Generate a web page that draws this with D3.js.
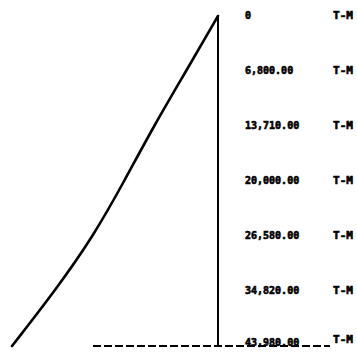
<!DOCTYPE html>
<html><head><meta charset="utf-8">
<script src="https://cdn.jsdelivr.net/npm/d3@7"></script>
<style>body{margin:0;background:#fff}svg{display:block}</style>
</head><body>
<svg id="c" width="357" height="352"></svg>
<script>
const stations = [0, 1, 2, 3, 4, 5, 6];
const moments = [0, 6800, 13710, 20000, 26580, 34820, 43980];
const momentLabels = ["0", "6,800.00", "13,710.00", "20,000.00", "26,580.00", "34,820.00", "43,980.00"];
const unitLabel = "T-M";

const svg = d3.select("#c");
const y = d3.scaleLinear().domain([0, 6]).range([16, 346]);
const x = d3.scaleLinear().domain([0, 43980]).range([218, 12]);

const pts = stations.map((s, i) => [x(moments[i]), y(s)]);
svg.append("path")
  .attr("d", d3.line().curve(d3.curveBasis)(pts))
  .attr("fill", "none").attr("stroke", "#000").attr("stroke-width", 2.6)
  .attr("stroke-linecap", "round");

svg.append("line")
  .attr("x1", x(0)).attr("x2", x(0)).attr("y1", y(0)).attr("y2", y(6))
  .attr("stroke", "#000").attr("stroke-width", 2);

svg.append("line")
  .attr("x1", 93).attr("x2", 330).attr("y1", y(6)).attr("y2", y(6))
  .attr("stroke", "#000").attr("stroke-width", 2).attr("stroke-dasharray", "8,3");

const g = svg.append("g").attr("font-family", "'DejaVu Sans Mono', monospace")
  .attr("font-weight", "bold").attr("font-size", 10).attr("fill", "#000")
  .attr("stroke", "#000").attr("stroke-width", 0.6);
g.selectAll("text.v").data(stations).join("text").attr("class", "v")
  .attr("x", 245).attr("y", d => y(d) + (d === 6 ? 0 : 3))
  .text((d, i) => momentLabels[i]);
g.selectAll("text.u").data(stations).join("text").attr("class", "u")
  .attr("x", 333).attr("y", d => y(d) + (d === 6 ? -3 : 3))
  .attr("textLength", 20).attr("lengthAdjust", "spacingAndGlyphs")
  .text(unitLabel);
</script>
</body></html>
